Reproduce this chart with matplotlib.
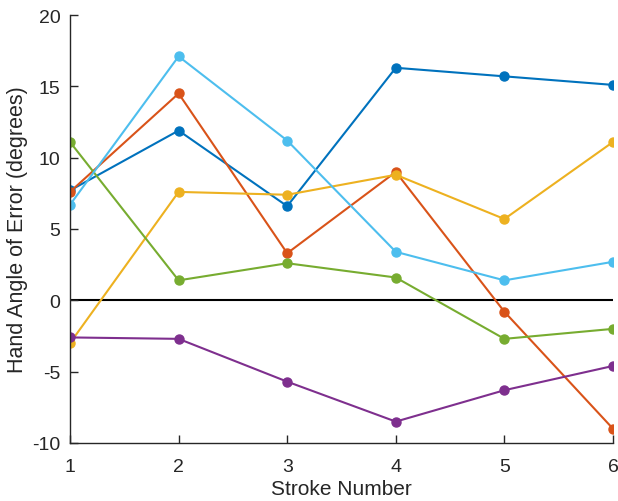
import numpy as np
import matplotlib.pyplot as plt

plt.rcParams['font.family'] = ['Liberation Sans', 'DejaVu Sans']

strokes = [1, 2, 3, 4, 5, 6]

# hand angle per subject, one list each
s1 = [7.7, 11.9, 6.6, 16.3, 15.7, 15.1]
s2 = [7.6, 14.5, 3.3, 9.0, -0.8, -9.0]
s3 = [-3.0, 7.6, 7.4, 8.8, 5.7, 11.1]
s4 = [-2.6, -2.7, -5.7, -8.5, -6.3, -4.6]
s5 = [11.1, 1.4, 2.6, 1.6, -2.7, -2.0]
s6 = [6.7, 17.1, 11.2, 3.4, 1.4, 2.7]

colors = ['#0072BD', '#D95319', '#EDB120', '#7E2F8E', '#77AC30', '#4DBEEE']

fig = plt.figure(figsize=(6.18, 5.02), dpi=100)
ax = fig.add_axes([70/618, 58/502, 543/618, 428/502])

ax.axhline(0, color='black', lw=1.5, zorder=1)
for ys, c in zip([s1, s2, s3, s4, s5, s6], colors):
    ax.plot(strokes, ys, '-o', color=c, lw=1.5, ms=6.5, zorder=2)

ax.set_xlim(1, 6)
ax.set_ylim(-10, 20)
ax.set_xticks(strokes)
ax.set_yticks([-10, -5, 0, 5, 10, 15, 20])
ax.set_yticklabels(['-10', '-5', '0', '5', '10', '15', '20'])
ax.spines['top'].set_visible(False)
ax.spines['right'].set_visible(False)
for sp in ['left', 'bottom']:
    ax.spines[sp].set_color('#262626')
    ax.spines[sp].set_linewidth(1.0)
ax.tick_params(direction='in', length=6, width=1.0, colors='#262626', labelsize=14)
ax.tick_params(axis='x', pad=11)
ax.tick_params(axis='y', pad=7)
ax.set_xlabel('Stroke Number', fontsize=15, color='#262626', labelpad=3)
ax.set_ylabel('Hand Angle of Error (degrees)', fontsize=15.5, color='#262626', labelpad=3)

fig.savefig('out.png', dpi=100)
